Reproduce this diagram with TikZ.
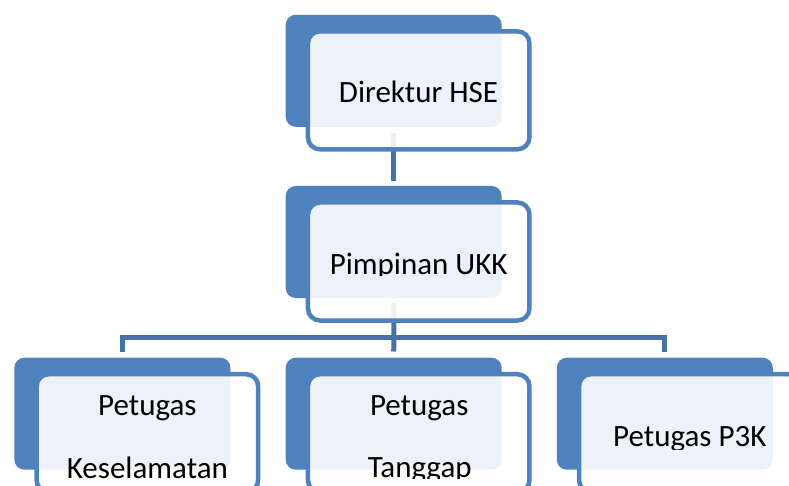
\documentclass[tikz,border=0pt]{standalone}
\usepackage{fontspec}
\setmainfont{Carlito}
\definecolor{acc}{RGB}{79,129,189}
\definecolor{connc}{RGB}{70,114,168}
\begin{document}
\begin{tikzpicture}[x=1pt,y=-1pt,
  darkbox/.style={rectangle, rounded corners=10pt, fill=acc, draw=none,
    minimum width=216pt, minimum height=112pt, inner sep=0pt},
  outbox/.style={rectangle, rounded corners=12pt, fill=white, fill opacity=0.9,
    draw=acc, line width=4.5pt, minimum width=221.5pt, minimum height=118pt, inner sep=0pt},
  lbl/.style={anchor=base, inner sep=0pt, font=\fontsize{31}{37}\selectfont, text=black},
  conn/.style={draw=connc, line width=5pt}]
\useasboundingbox (0,0) rectangle (789,486);
\clip (0,0) rectangle (789,486);
% dark back boxes (positions)
\path (393.7,70.8) node[darkbox, draw=none, fill=none] (d1) {};
\path (393.7,242) node[darkbox, draw=none, fill=none] (d2) {};
\path (122.4,413.7) node[darkbox, draw=none, fill=none] (d3) {};
\path (393.7,413.7) node[darkbox, draw=none, fill=none] (d4) {};
\path (664.8,413.7) node[darkbox, draw=none, fill=none] (d5) {};
% connectors
\coordinate (bus) at (394,337.5);
\draw[conn] ([yshift=-6.3pt]d1.south) -- ([yshift=5pt]d2.north);
\draw[conn] ([yshift=-5pt]d2.south) -- (bus);
\draw[conn] ([yshift=6pt]d3.north) |- (bus) -| ([yshift=6pt]d5.north);
\draw[conn] (bus) -- ([yshift=6pt]d4.north);
% boxes
\foreach \n in {d1,d2,d3,d4,d5}{
  \node[darkbox] at (\n) {};
  \node[outbox] (o\n) at ([xshift=25pt,yshift=-19.5pt]\n.center) {};
}
% texts, each clipped below its baseline
\begin{scope}
  \clip (0,0) rectangle (789,106);
  \node[lbl] (t1) at (418.5,102.7) {Direktur HSE};
\end{scope}
\begin{scope}
  \clip (0,0) rectangle (789,275.5);
  \node[lbl] (t2) at (418.7,274.5) {Pimpinan UKK};
\end{scope}
\begin{scope}
  \clip (0,0) rectangle (789,420);
  \node[lbl] (t3a) at (147.4,415) {Petugas};
  \node[lbl] (t4a) at (419.2,415.5) {Petugas};
\end{scope}
\begin{scope}
  \clip (0,0) rectangle (789,449);
  \node[lbl] (t5) at (689.8,446.7) {Petugas P3K};
\end{scope}
\begin{scope}
  \clip (0,0) rectangle (789,478.5);
  \node[lbl] (t3b) at (147.4,478) {Keselamatan};
  \node[lbl] (t4b) at (419.7,477.5) {Tanggap};
\end{scope}
\end{tikzpicture}
\end{document}
